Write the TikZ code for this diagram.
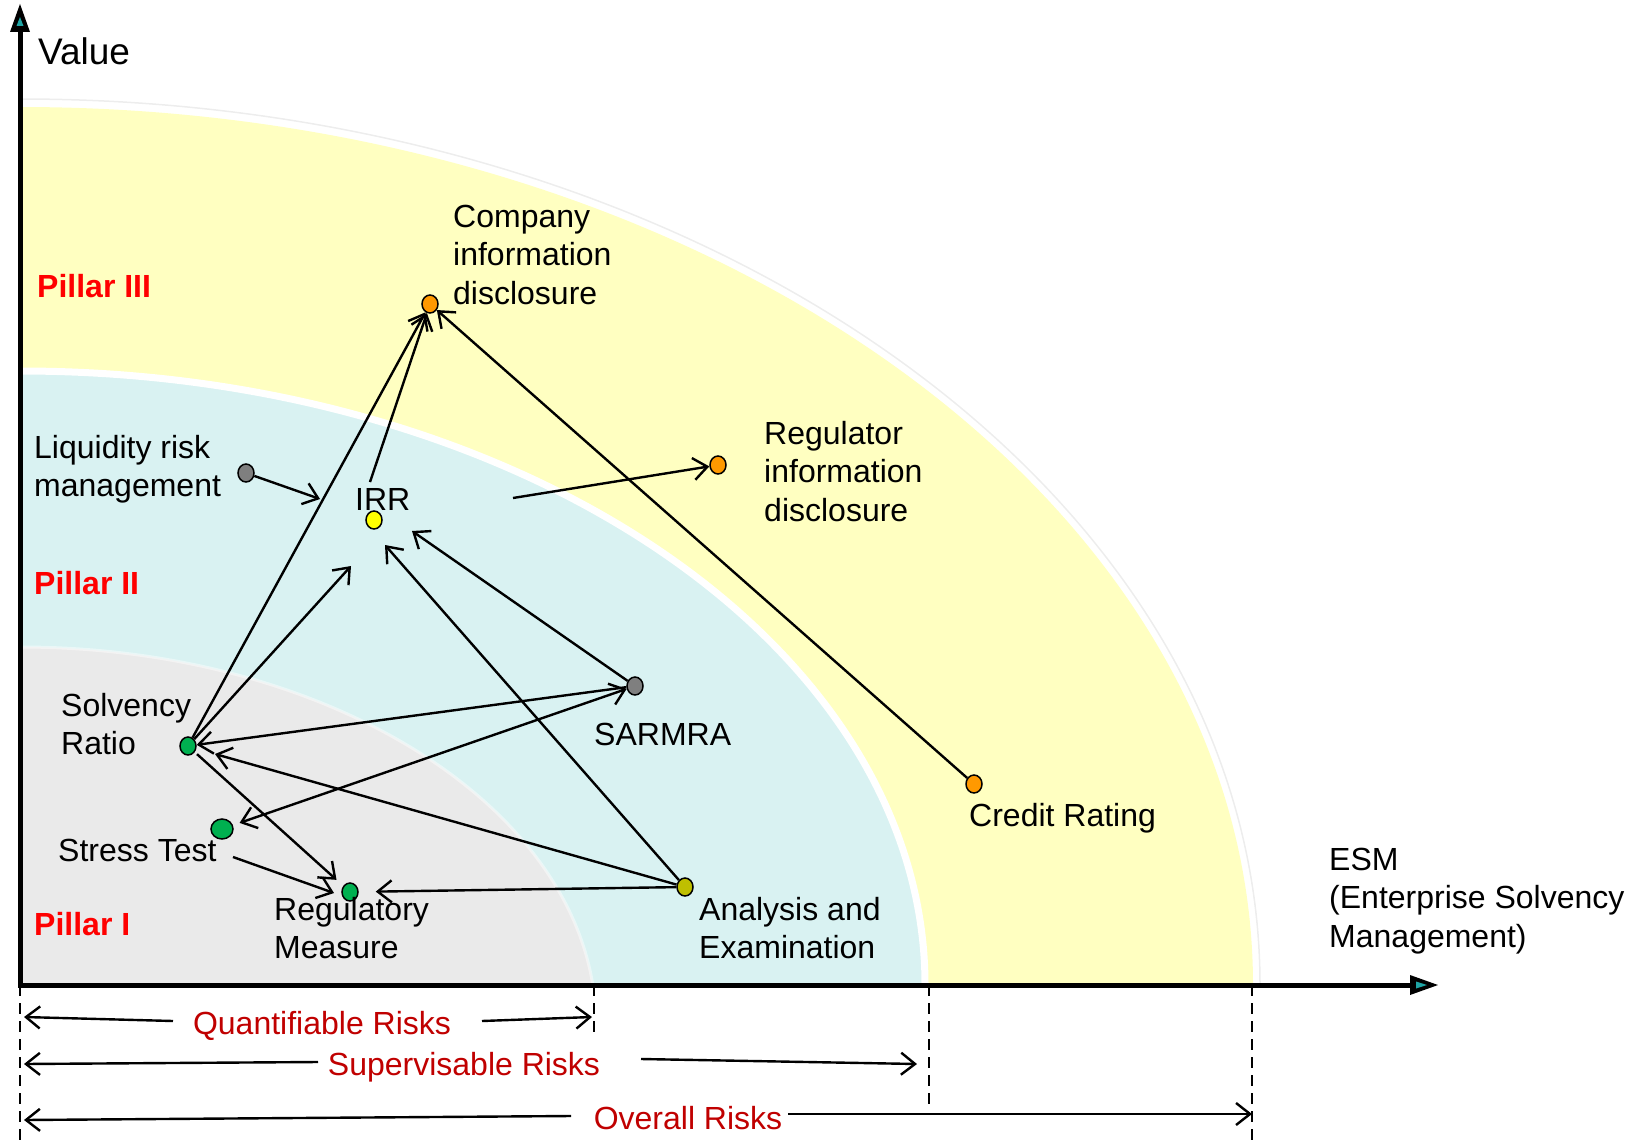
\documentclass[tikz,border=0pt]{standalone}
\usepackage{fontspec}
\setmainfont{Liberation Sans}
\usetikzlibrary{arrows.meta,shapes.geometric}

\definecolor{pillarthree}{HTML}{FFFFC1}
\definecolor{pillartwo}{HTML}{D9F2F2}
\definecolor{pillarone}{HTML}{EAEAEA}
\definecolor{dotorange}{HTML}{FF9900}
\definecolor{dotgrey}{HTML}{7F7F7F}
\definecolor{dotgreen}{HTML}{00B050}
\definecolor{dotyellow}{HTML}{FFFF00}
\definecolor{dotolive}{HTML}{BFBF00}
\definecolor{axisteal}{HTML}{1FA5A5}
\definecolor{risklabel}{HTML}{C00000}

\begin{document}
\begin{tikzpicture}[x=1pt,y=-1pt,
  lbl/.style={anchor=north west, inner sep=0pt, align=left,
              font=\fontsize{32}{38.5}\selectfont},
  pillar/.style={lbl, text=red, font=\bfseries\fontsize{32}{38.5}\selectfont},
  risk/.style={anchor=base, inner sep=0pt, text=risklabel,
               font=\fontsize{32}{38.5}\selectfont},
  dot/.style={shape=ellipse, draw=black, line width=1.5pt, inner sep=0pt,
              minimum width=16pt, minimum height=18pt},
  barb/.tip={Straight Barb[length=14pt, width=22pt]},
  link/.style={line width=2.4pt, -barb},
  span/.style={line width=2.4pt, barb-barb},
  guide/.style={line width=2pt, dash pattern=on 11pt off 7pt}
]
\useasboundingbox (0,0) rectangle (1643,1145);

% ---- nested regions of the three pillars ----
\begin{scope}
  \clip (22,0) rectangle (1643,983);
  \draw[black!7, line width=1.5pt] (20,985) ellipse [x radius=1240, y radius=886];
  \draw[white, line width=5pt] (20,985) ellipse [x radius=1236, y radius=881];
  \fill[pillarthree] (20,985) ellipse [x radius=1233, y radius=878];
  \fill[pillartwo] (20,985) ellipse [x radius=905, y radius=614];
  \draw[white, line width=7pt] (20,985) ellipse [x radius=905, y radius=614];
  \fill[pillarone] (20,1025) ellipse [x radius=576, y radius=378];
  \draw[white, opacity=0.45, line width=3pt] (20,1025) ellipse [x radius=576, y radius=378];
\end{scope}

% ---- axes ----
\coordinate (O) at (20,985);
\coordinate (ytop) at (20,30);
\coordinate (xend) at (1413,985);
\draw[line width=5pt] (20,987.5) -- (ytop);
\draw[line width=5pt] (O) -- (xend);
\fill (20,4) -- (10,32) -- (30,32) -- cycle;
\fill[axisteal] (20,17) -- (16.5,26) -- (23.5,26) -- cycle;
\fill (1438,985) -- (1410,975) -- (1410,995) -- cycle;
\fill[axisteal] (1427,985) -- (1416,981.5) -- (1416,988.5) -- cycle;

\node[anchor=base west, inner sep=0pt, font=\fontsize{37}{44}\selectfont] (value) at (38,65) {Value};
\node[lbl] (esm) at (1329,843) {\strut ESM\\\strut (Enterprise Solvency\\\strut Management)};

% ---- pillar names ----
\node[pillar] (p3) at (37,270) {\strut Pillar III};
\node[pillar] (p2) at (34,567) {\strut Pillar II};
\node[pillar] (p1) at (34,908) {\strut Pillar I};

% ---- instruments ----
\node[dot, fill=dotorange] (comp) at (430,304) {};
\node[dot, fill=dotorange] (regd) at (718,465) {};
\node[dot, fill=dotgrey] (liq) at (246,473) {};
\node[dot, fill=dotyellow] (irr) at (374,520) {};
\node[dot, fill=dotgrey] (sar) at (635,686) {};
\node[dot, fill=dotgreen] (solv) at (188,746) {};
\node[dot, fill=dotgreen, minimum width=22pt, minimum height=20pt] (stress) at (222,829) {};
\node[dot, fill=dotgreen] (reg) at (350,892) {};
\node[dot, fill=dotolive] (ana) at (685,887) {};
\node[dot, fill=dotorange] (cred) at (974,784) {};

\node[lbl] (compl) at (453,200) {\strut Company\\\strut information\\\strut disclosure};
\node[lbl] (regdl) at (764,417) {\strut Regulator\\\strut information\\\strut disclosure};
\node[lbl] (liql) at (34,431) {\strut Liquidity risk\\\strut management};
\node[lbl] (irrl) at (355,483) {\strut IRR};
\node[lbl] (sarl) at (594,718) {\strut SARMRA};
\node[lbl] (solvl) at (61,689) {\strut Solvency\\\strut Ratio};
\node[lbl] (stressl) at (58,834) {\strut Stress Test};
\node[lbl] (regl) at (274,893) {\strut Regulatory\\\strut Measure};
\node[lbl] (anal) at (699,893) {\strut Analysis and\\\strut Examination};
\node[lbl] (credl) at (969,799) {\strut Credit Rating};

% ---- free ends of the links around IRR and the other labels ----
\coordinate (irrW) at (320,499);
\coordinate (irrN) at (370,482);
\coordinate (irrE) at (513,498);
\coordinate (irrSW) at (351,566);
\coordinate (irrS) at (385,545);
\coordinate (irrSE) at (412,531);
\coordinate (solvSE) at (215,754);
\coordinate (stressE) at (233,857);
\coordinate (regW) at (334,893);

% ---- links ----
\draw[link] (liq) -- (irrW);
\draw[link] (irrN) -- (comp);
\draw[link] (solv) -- (comp);
\draw[link] (solv) -- (irrSW);
\draw[link] (irrE) -- (regd);
\draw[link] (cred) -- (comp);
\draw[link] (sar) -- (irrSE);
\draw[link] (ana) -- (irrS);
\draw[link] (sar) -- (solv);
\draw[link] (ana) -- (solvSE);
\draw[span, shorten <=7pt] (stress) -- (sar);
\draw[link, shorten <=3pt, shorten >=9pt] (solv) -- (reg);
\draw[link] (stressE) -- (regW);
\draw[link, shorten >=17pt] (ana) -- (reg);

% ---- risk ranges below the axis ----
\coordinate (g0a) at (20,985);    \coordinate (g0b) at (20,1145);
\coordinate (g1a) at (594,985);   \coordinate (g1b) at (594,1032);
\coordinate (g2a) at (929,985);   \coordinate (g2b) at (929,1106);
\coordinate (g3a) at (1252,985);  \coordinate (g3b) at (1252,1145);
\draw[guide] (g0a) -- (g0b);
\draw[guide] (g1a) -- (g1b);
\draw[guide] (g2a) -- (g2b);
\draw[guide] (g3a) -- (g3b);

\node[risk] (ql) at (322,1034) {Quantifiable Risks};
\node[risk] (sl) at (464,1075) {Supervisable Risks};
\node[risk] (ol) at (688,1129) {Overall Risks};

\coordinate (qa) at (173,1021);  \coordinate (qA) at (24,1017);
\coordinate (qb) at (482,1021);  \coordinate (qB) at (592,1017);
\coordinate (sa) at (318,1062);  \coordinate (sA) at (24,1064);
\coordinate (sb) at (641,1059);  \coordinate (sB) at (917,1064);
\coordinate (oa) at (571,1116);  \coordinate (oA) at (24,1120);
\coordinate (ob) at (788,1114);  \coordinate (oB) at (1252,1114);
\draw[link] (qa) -- (qA);
\draw[link] (qb) -- (qB);
\draw[link] (sa) -- (sA);
\draw[link] (sb) -- (sB);
\draw[link] (oa) -- (oA);
\draw[link] (ob) -- (oB);
\end{tikzpicture}
\end{document}
